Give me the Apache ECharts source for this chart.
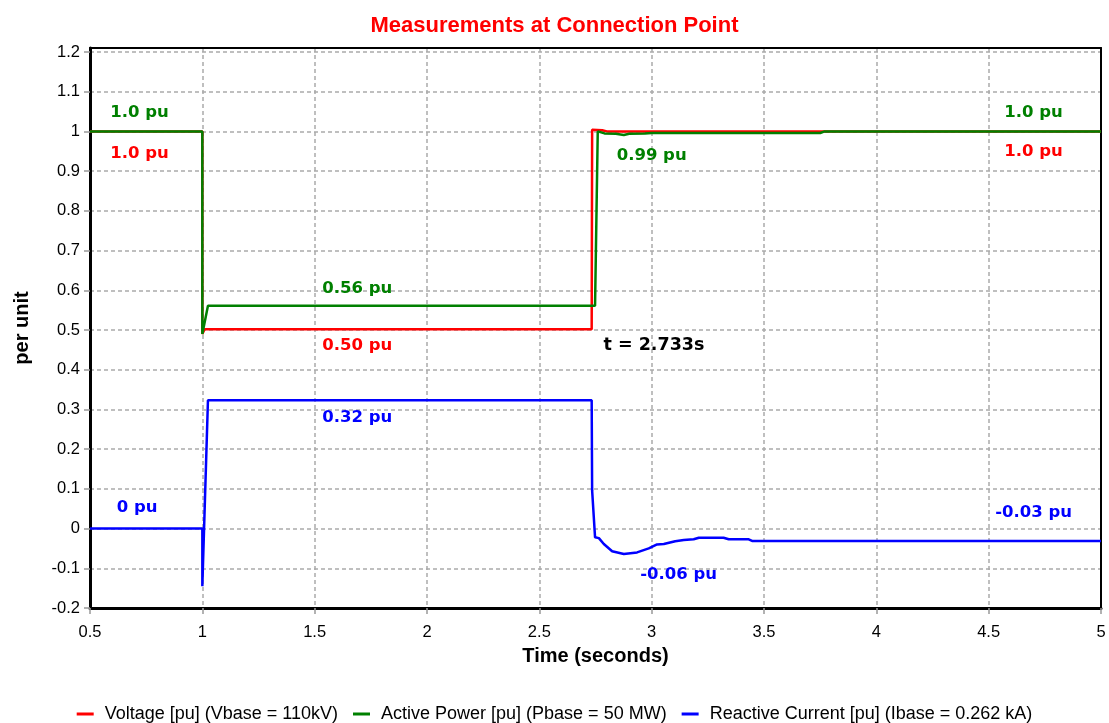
<!DOCTYPE html>
<html>
<head>
<meta charset="utf-8">
<script src="https://cdn.jsdelivr.net/npm/echarts@6/dist/echarts.min.js"></script>
<style>html,body{margin:0;padding:0;background:#fff;}#chart{width:1109px;height:723px;}</style>
</head>
<body>
<div id="chart"></div>
<script>
// ---- data ----
const seriesNames = [
  'Voltage [pu] (Vbase = 110kV)',
  'Active Power [pu] (Pbase = 50 MW)',
  'Reactive Current [pu] (Ibase = 0.262 kA)'
];
const voltageT = [0.5, 1.0, 1.0, 1.01, 2.733, 2.735, 2.78, 2.8, 5.0];
const voltageV = [1.0, 1.0, 0.49, 0.502, 0.502, 1.004, 1.003, 1.0, 1.0];

const powerT = [0.5, 1.0, 1.0, 1.025, 2.748, 2.76, 2.79, 2.84, 2.876, 2.9, 2.97, 3.0, 3.75, 3.77, 5.0];
const powerV = [1.0, 1.0, 0.49, 0.561, 0.561, 1.0, 0.995, 0.994, 0.991, 0.994, 0.995, 0.996, 0.996, 1.0, 1.0];

const currentT = [0.5, 1.0, 1.0, 1.025, 2.733, 2.735, 2.748, 2.765, 2.787, 2.824, 2.876, 2.935, 2.987, 3.024, 3.054, 3.105, 3.143, 3.187, 3.21, 3.32, 3.343, 3.432, 3.447, 5.0];
const currentV = [0.0, 0.0, -0.145, 0.323, 0.323, 0.096, -0.022, -0.024, -0.039, -0.057, -0.064, -0.06, -0.05, -0.04, -0.039, -0.032, -0.029, -0.027, -0.023, -0.023, -0.027, -0.027, -0.031, -0.031];

// annotation texts with their anchor (data units)
const voltageNotes = [
  { text: '1.0 pu', t: 0.72, v: 0.943 },
  { text: '0.50 pu', t: 1.69, v: 0.46 },
  { text: '1.0 pu', t: 4.7, v: 0.95 }
];
const timeNote = { text: 't = 2.733s', t: 3.01, v: 0.46 };
const powerNotes = [
  { text: '1.0 pu', t: 0.72, v: 1.047 },
  { text: '0.56 pu', t: 1.69, v: 0.605 },
  { text: '0.99 pu', t: 3.0, v: 0.94 },
  { text: '1.0 pu', t: 4.7, v: 1.047 }
];
const currentNotes = [
  { text: '0 pu', t: 0.71, v: 0.053 },
  { text: '0.32 pu', t: 1.69, v: 0.28 },
  { text: '-0.06 pu', t: 3.12, v: -0.117 },
  { text: '-0.03 pu', t: 4.7, v: 0.04 }
];

const xMin = 0.5, xMax = 5, xStep = 0.5;
const yMin = -0.2, yMax = 1.21, yStep = 0.1;

// ---- build ----
const colors = ['#ff0000', '#008000', '#0000ff'];
function pairs(t, v) { return t.map((x, i) => [x, v[i]]); }
function marks(notes, color, size) {
  return notes.map(n => ({
    coord: [n.t, n.v],
    value: n.text,
    symbolSize: 0,
    label: {
      show: true, position: 'inside', formatter: n.text, color: color,
      fontFamily: 'DejaVu Sans', fontWeight: 'bold', fontSize: size || 16.5
    }
  }));
}

const chart = echarts.init(document.getElementById('chart'), null, { renderer: 'canvas' });
const dashed = { color: '#aaaaaa', width: 1.5, type: [4, 3] };
const fontTick = { fontFamily: 'Liberation Sans', fontSize: 16.5, color: '#000' };
const frameLine = { show: true, onZero: false, lineStyle: { color: '#000', width: 2 } };

chart.setOption({
  animation: false,
  backgroundColor: '#fff',
  title: {
    text: 'Measurements at Connection Point',
    left: 'center', top: 10,
    textStyle: { fontFamily: 'Liberation Sans', fontSize: 22, fontWeight: 'bold', color: '#ff0000' }
  },
  legend: {
    bottom: -5, left: 'center',
    itemWidth: 17, itemHeight: 3, itemGap: 15,
    icon: 'rect',
    textStyle: { fontFamily: 'Liberation Sans', fontSize: 18, color: '#000', padding: [0, 0, 0, 6] },
    data: seriesNames
  },
  grid: {
    left: 90, right: 8, top: 48, bottom: 115,
    show: false
  },
  xAxis: [{
    type: 'value', min: xMin, max: xMax, interval: xStep,
    name: 'Time (seconds)', nameLocation: 'middle', nameGap: 38,
    nameTextStyle: { fontFamily: 'Liberation Sans', fontSize: 20, fontWeight: 'bold', color: '#000' },
    axisLine: { show: true, onZero: false, lineStyle: { color: '#000', width: 3 } },
    axisTick: { show: true, length: 6, lineStyle: { color: '#999', width: 1.5 } },
    axisLabel: Object.assign({ margin: 16 }, fontTick),
    splitLine: { show: true, lineStyle: dashed }
  }, {
    type: 'value', position: 'top', min: xMin, max: xMax, interval: xStep,
    axisLine: frameLine, axisTick: { show: false }, axisLabel: { show: false }, splitLine: { show: false }
  }],
  yAxis: [{
    type: 'value', min: yMin, max: yMax, interval: yStep,
    name: 'per unit', nameLocation: 'middle', nameGap: 58,
    nameTextStyle: { fontFamily: 'Liberation Sans', fontSize: 20, fontWeight: 'bold', color: '#000' },
    axisLine: { show: true, onZero: false, lineStyle: { color: '#000', width: 3 } },
    axisTick: { show: true, length: 6, lineStyle: { color: '#999', width: 1.5 } },
    axisLabel: Object.assign({ margin: 10, showMaxLabel: false,
      formatter: v => (Math.abs(v - 1.21) < 1e-6 ? '' : String(Math.round(v * 10) / 10)) }, fontTick),
    splitLine: { show: true, lineStyle: dashed }
  }, {
    type: 'value', position: 'right', min: yMin, max: yMax, interval: yStep,
    axisLine: frameLine, axisTick: { show: false }, axisLabel: { show: false }, splitLine: { show: false }
  }],
  series: [
    {
      name: seriesNames[0], type: 'line', data: pairs(voltageT, voltageV),
      showSymbol: false, symbol: 'none', color: colors[0], z: 3,
      lineStyle: { width: 2.5, color: colors[0] },
      markPoint: { symbol: 'circle', symbolSize: 0, data: marks(voltageNotes, colors[0]).concat(marks([timeNote], '#000', 17.5)) }
    },
    {
      name: seriesNames[1], type: 'line', data: pairs(powerT, powerV),
      showSymbol: false, symbol: 'none', color: colors[1], z: 4,
      lineStyle: { width: 2.5, color: colors[1] },
      markPoint: { symbol: 'circle', symbolSize: 0, data: marks(powerNotes, colors[1]) }
    },
    {
      name: seriesNames[2], type: 'line', data: pairs(currentT, currentV),
      showSymbol: false, symbol: 'none', color: colors[2], z: 5,
      lineStyle: { width: 2.5, color: colors[2] },
      markPoint: { symbol: 'circle', symbolSize: 0, data: marks(currentNotes, colors[2]) }
    }
  ]
});
</script>
</body>
</html>
